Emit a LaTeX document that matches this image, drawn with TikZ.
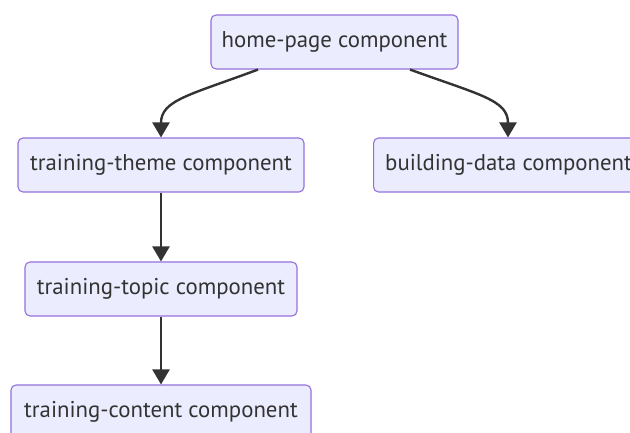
\documentclass[tikz,border=0pt]{standalone}
\usepackage{fontspec}
\setmainfont{PT Sans}
\usetikzlibrary{arrows.meta}
\definecolor{boxfill}{HTML}{ECECFF}
\definecolor{boxline}{HTML}{9370DB}
\definecolor{ink}{HTML}{333333}
\tikzset{
  comp/.style={draw=boxline, fill=boxfill, line width=1.1pt, rounded corners=5pt,
    minimum height=54pt, inner xsep=0pt, text=ink, font=\fontsize{22.8}{26}\selectfont},
  link/.style={draw=ink, line width=2.4pt, -{Triangle[length=15pt,width=17pt]}}
}
\begin{document}
\begin{tikzpicture}[x=1pt,y=-1pt]
  \useasboundingbox (0,0) rectangle (630,433);
  \node[comp, minimum width=247pt] (home) at (334.5,42) {home-page component};
  \node[comp, minimum width=286pt] (theme) at (161,165) {training-theme component};
  \node[comp, minimum width=270pt, anchor=west] (build) at (373,165) {building-data component};
  \node[comp, minimum width=272pt] (topic) at (161,289) {training-topic component};
  \node[comp, minimum width=300pt] (content) at (161,412) {training-content component};
  \draw[link] (home.south -| 258,0) .. controls (190,95) and (161,100) .. (theme.north);
  \draw[link] (home.south -| 410,0) .. controls (480,95) and (508,100) .. (build.north -| 508,0);
  \draw[link] (theme) -- (topic);
  \draw[link] (topic) -- (content);
\end{tikzpicture}
\end{document}
